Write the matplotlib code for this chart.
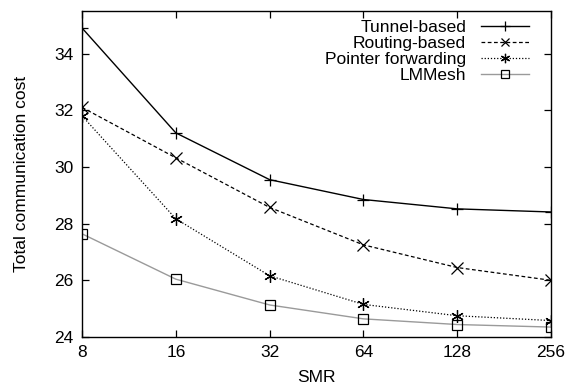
import matplotlib
matplotlib.use('Agg')
import matplotlib.pyplot as plt

plt.rcParams['font.family'] = ['Liberation Sans', 'DejaVu Sans']
plt.rcParams['font.size'] = 12

# SMR values and the total communication cost of each scheme
smr = [8, 16, 32, 64, 128, 256]
tunnel_based = [34.9, 31.2, 29.55, 28.85, 28.52, 28.41]
routing_based = [32.1, 30.32, 28.57, 27.25, 26.45, 26.0]
pointer_forwarding = [31.8, 28.17, 26.16, 25.15, 24.75, 24.58]
lmmesh = [27.64, 26.04, 25.13, 24.64, 24.44, 24.35]

fig = plt.figure(figsize=(5.74, 3.87), dpi=100)
ax = fig.add_axes([0.1429, 0.1292, 0.8171, 0.8424])

ax.plot(smr, tunnel_based, color='black', lw=1.0, ls='-',
        marker='+', ms=9, mew=0.9, label='Tunnel-based')
ax.plot(smr, routing_based, color='black', lw=0.9, ls=(0, (3, 2)),
        marker='x', ms=8, mew=0.9, label='Routing-based')
ax.plot(smr, pointer_forwarding, color='black', lw=0.9, ls=(0, (1, 1.5)),
        marker=(6, 2, 0), ms=9, mew=0.9, label='Pointer forwarding')
ax.plot(smr, lmmesh, color='#9a9a9a', lw=1.0, ls='-',
        marker='s', ms=7.5, mew=0.9, mfc='none', mec='black', label='LMMesh')

ax.set_xscale('log', base=2)
ax.set_xlim(8, 256)
ax.set_ylim(24, 35.5)
ax.set_xticks(smr)
ax.set_xticklabels([str(v) for v in smr])
ax.minorticks_off()
ax.set_yticks([24, 26, 28, 30, 32, 34])

ax.tick_params(direction='in', length=5, width=0.9, top=True, right=True,
               labelsize=12.5, pad=6)
for sp in ax.spines.values():
    sp.set_linewidth(1.0)

ax.set_xlabel('SMR', fontsize=12.5, labelpad=7)
ax.set_ylabel('Total communication cost', fontsize=12.5, labelpad=18)

ax.legend(loc='upper right', bbox_to_anchor=(0.965, 0.99), frameon=False,
          markerfirst=False, handlelength=2.8, labelspacing=0.05,
          fontsize=12.5, borderaxespad=0.0, borderpad=0.3,
          handletextpad=0.85, markerscale=0.75)

fig.savefig('out.png', dpi=100)
